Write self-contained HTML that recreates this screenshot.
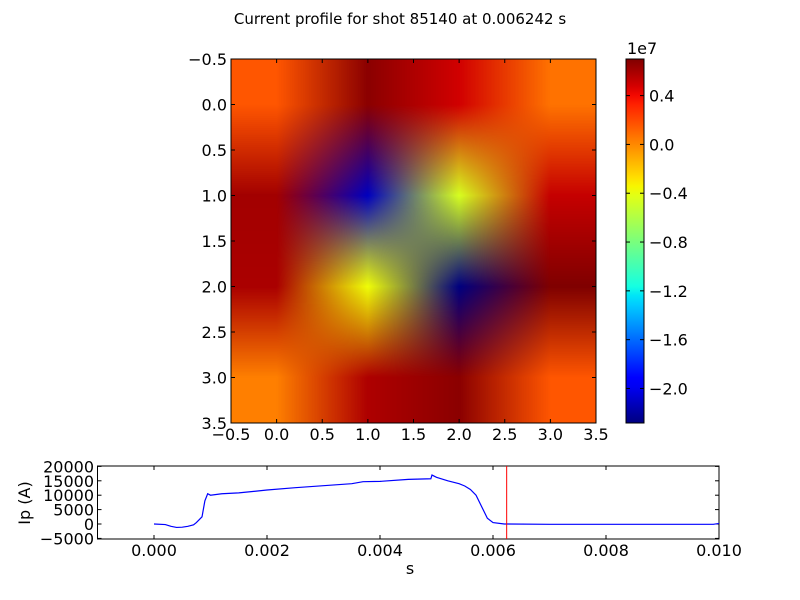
<!DOCTYPE html>
<html><head><meta charset="utf-8"><style>
body{margin:0;background:#fff;width:800px;height:600px;overflow:hidden;position:relative;font-family:"DejaVu Sans","Liberation Sans",sans-serif}
svg{position:absolute;left:0;top:0;font-family:"DejaVu Sans","Liberation Sans",sans-serif}
canvas{position:absolute}
</style></head><body>
<canvas id="hm" width="365" height="364" style="left:231px;top:59px"></canvas>
<svg id="s" width="800" height="600"></svg>
<script>
// heatmap values (units of 1e7), rows y=0..3, cols x=0..3
const row0=[0.16,0.67,0.49,0.07];
const row1=[0.61,-2.12,-0.46,0.52];
const row2=[0.59,-0.37,-2.283,0.7];
const row3=[0.03,0.58,0.67,0.16];
const grid=[row0,row1,row2,row3];
const vmin=-2.283, vmax=0.7;
const cbTicks=[0.4,0.0,-0.4,-0.8,-1.2,-1.6,-2.0];
const axTicks=[-0.5,0.0,0.5,1.0,1.5,2.0,2.5,3.0,3.5];
// Ip series
const ipT=[0,0.0002,0.0003,0.0004,0.0005,0.0006,0.0007,0.00075,0.0008,0.00085,0.0009,0.00095,0.001,0.0012,0.0015,0.002,0.0025,0.003,0.0035,0.0037,0.004,0.0045,0.0049,0.00492,0.005,0.0052,0.0054,0.0055,0.0056,0.0057,0.0058,0.0059,0.006,0.0062,0.007,0.0099,0.01];
const ipV=[0,-200,-800,-1200,-1100,-800,-300,500,1500,2500,8000,10500,10000,10500,10800,11800,12600,13300,14000,14700,14800,15500,15700,17000,16200,15000,14000,13200,12000,10000,6000,2000,500,0,-100,-100,200];
const ipXTicks=[0,0.002,0.004,0.006,0.008,0.010];
const ipXLabels=["0.000","0.002","0.004","0.006","0.008","0.010"];
const ipYTicks=[20000,15000,10000,5000,0,-5000];
const tMark=0.006242;

const JR=[[0,0],[0.35,0],[0.66,1],[0.89,1],[1,0.5]];
const JG=[[0,0],[0.125,0],[0.375,1],[0.64,1],[0.91,0],[1,0]];
const JB=[[0,0.5],[0.11,1],[0.34,1],[0.65,0],[1,0]];
function seg(p,t){for(let i=1;i<p.length;i++){if(t<=p[i][0]){const f=(t-p[i-1][0])/(p[i][0]-p[i-1][0]);return p[i-1][1]+f*(p[i][1]-p[i-1][1]);}}return p[p.length-1][1];}
function jet(t){t=Math.max(0,Math.min(1,t));return [seg(JR,t)*255,seg(JG,t)*255,seg(JB,t)*255];}
const cv=document.getElementById('hm'),ctx=cv.getContext('2d');
const W=365,H=364,img=ctx.createImageData(W,H);
const cols=grid.map(r=>r.map(v=>jet((v-vmin)/(vmax-vmin))));
for(let py=0;py<H;py++){const gy=Math.max(0,Math.min(3,(py+0.5)/H*4-0.5));const y0=Math.min(2,Math.floor(gy)),fy=gy-y0;
for(let px=0;px<W;px++){const gx=Math.max(0,Math.min(3,(px+0.5)/W*4-0.5));const x0=Math.min(2,Math.floor(gx)),fx=gx-x0;
const i=(py*W+px)*4;for(let k=0;k<3;k++){
const a=cols[y0][x0][k]*(1-fx)+cols[y0][x0+1][k]*fx,b=cols[y0+1][x0][k]*(1-fx)+cols[y0+1][x0+1][k]*fx;
img.data[i+k]=a*(1-fy)+b*fy;}img.data[i+3]=255;}}
ctx.putImageData(img,0,0);

const s=document.getElementById('s'),NS='http://www.w3.org/2000/svg';
function el(t,a,txt){const e=document.createElementNS(NS,t);for(const k in a)e.setAttribute(k,a[k]);if(txt!==undefined)e.textContent=txt;s.appendChild(e);return e;}
let e;const FS=16;
e=el('text',{x:400,y:24,'text-anchor':'middle','font-size':15},'Current profile for shot 85140 at 0.006242 s');

const ax=v=>231+(v+0.5)*365/4, ay=v=>59+(v+0.5)*364/4;
e=el('rect',{x:231,y:59,width:365,height:364,fill:'none',stroke:'#000'});

axTicks.forEach(v=>{
 el('line',{x1:ax(v),x2:ax(v),y1:423,y2:419,stroke:'#000'});el('line',{x1:ax(v),x2:ax(v),y1:59,y2:63,stroke:'#000'});
 e=el('text',{x:ax(v),y:440,'text-anchor':'middle','font-size':FS},v.toFixed(1).replace('-','\u2212'));
 
 el('line',{x1:231,x2:235,y1:ay(v),y2:ay(v),stroke:'#000'});el('line',{x1:596,x2:592,y1:ay(v),y2:ay(v),stroke:'#000'});
 e=el('text',{x:227,y:ay(v)+6,'text-anchor':'end','font-size':FS},v.toFixed(1).replace('-','\u2212'));
 
});
const defs=el('defs',{});const g=document.createElementNS(NS,'linearGradient');g.setAttribute('id','jg');g.setAttribute('x1',0);g.setAttribute('y1',1);g.setAttribute('x2',0);g.setAttribute('y2',0);defs.appendChild(g);
for(let i=0;i<=40;i++){const c=jet(i/40);const st=document.createElementNS(NS,'stop');st.setAttribute('offset',i/40);st.setAttribute('stop-color',`rgb(${c.map(Math.round)})`);g.appendChild(st);}
e=el('rect',{x:626,y:59,width:18,height:364,fill:'url(#jg)',stroke:'#000'});

const cy=v=>423-(v-vmin)/(vmax-vmin)*364;
cbTicks.forEach(v=>{el('line',{x1:640,x2:644,y1:cy(v),y2:cy(v),stroke:'#000'});el('line',{x1:626,x2:630,y1:cy(v),y2:cy(v),stroke:'#000'});
 e=el('text',{x:649,y:cy(v)+6,'font-size':FS},v.toFixed(1).replace('-','\u2212'));
 });
e=el('text',{x:627,y:54,'font-size':FS},'1e7');
const bx=t=>154+t*56500, by=v=>524-v*0.00288;
e=el('rect',{x:97.5,y:466,width:621.5,height:73,fill:'none',stroke:'#000'});

ipXTicks.forEach((t,i)=>{el('line',{x1:bx(t),x2:bx(t),y1:539,y2:535,stroke:'#000'});el('line',{x1:bx(t),x2:bx(t),y1:466,y2:470,stroke:'#000'});
 e=el('text',{x:bx(t),y:556,'text-anchor':'middle','font-size':FS},ipXLabels[i]);});
ipYTicks.forEach(v=>{el('line',{x1:97.5,x2:101.5,y1:by(v),y2:by(v),stroke:'#000'});el('line',{x1:719,x2:715,y1:by(v),y2:by(v),stroke:'#000'});
 e=el('text',{x:94,y:by(v)+6,'text-anchor':'end','font-size':FS},String(v).replace('-','\u2212'));});
e=el('polyline',{points:ipT.map((t,i)=>bx(t)+','+by(ipV[i])).join(' '),fill:'none',stroke:'#0000ff','stroke-width':1.2});

e=el('line',{x1:bx(tMark),x2:bx(tMark),y1:466,y2:539,stroke:'#ff0000'});

e=el('text',{x:410,y:574,'text-anchor':'middle','font-size':FS},'s');
e=el('text',{x:30,y:503,'text-anchor':'middle','font-size':FS,transform:'rotate(-90 30 503)'},'Ip (A)');
</script>
</body></html>
